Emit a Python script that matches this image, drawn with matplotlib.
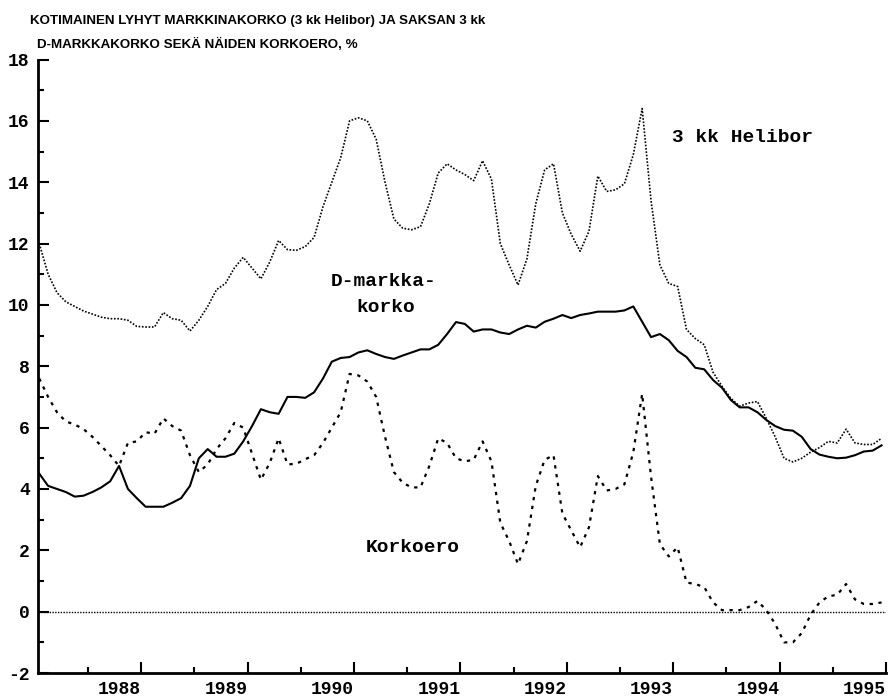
import matplotlib
matplotlib.use('Agg')
import matplotlib.pyplot as plt
from matplotlib import font_manager
import numpy as np

# Monthly values, Jan 1987 - Dec 1994 (%)
helibor = [12.0, 11.0, 10.4, 10.1, 9.95, 9.8, 9.7, 9.6, 9.55, 9.55, 9.5, 9.3,
           9.28, 9.28, 9.75, 9.55, 9.5, 9.15, 9.5, 9.95, 10.5, 10.7, 11.2, 11.55,
           11.2, 10.85, 11.4, 12.1, 11.8, 11.78, 11.9, 12.2, 13.2, 14.0, 14.8, 16.0,
           16.1, 16.0, 15.4, 14.0, 12.8, 12.5, 12.45, 12.55, 13.3, 14.3, 14.6, 14.4,
           14.25, 14.05, 14.7, 14.1, 12.0, 11.3, 10.65, 11.5, 13.3, 14.4, 14.6, 13.0,
           12.3, 11.75, 12.4, 14.2, 13.7, 13.75, 13.95, 14.9, 16.4, 13.4, 11.3, 10.7,
           10.6, 9.2, 8.9, 8.7, 7.8, 7.35, 6.95, 6.7, 6.8, 6.85, 6.3, 5.7,
           5.0, 4.88, 5.0, 5.2, 5.35, 5.55, 5.5, 5.95, 5.5, 5.45, 5.45, 5.65]

dmark = [4.5, 4.1, 4.0, 3.9, 3.75, 3.78, 3.9, 4.05, 4.25, 4.75, 4.0, 3.7,
         3.42, 3.42, 3.42, 3.55, 3.7, 4.1, 5.0, 5.3, 5.05, 5.05, 5.15, 5.55,
         6.05, 6.6, 6.5, 6.45, 7.0, 7.0, 6.97, 7.15, 7.6, 8.15, 8.27, 8.3,
         8.45, 8.52, 8.4, 8.3, 8.24, 8.35, 8.45, 8.55, 8.55, 8.7, 9.05, 9.44,
         9.38, 9.13, 9.2, 9.2, 9.1, 9.05, 9.2, 9.32, 9.26, 9.45, 9.55, 9.67,
         9.57, 9.67, 9.72, 9.78, 9.78, 9.78, 9.82, 9.95, 9.45, 8.95, 9.05, 8.85,
         8.5, 8.3, 7.95, 7.9, 7.55, 7.3, 6.9, 6.66, 6.66, 6.5, 6.25, 6.05,
         5.93, 5.9, 5.7, 5.3, 5.12, 5.05, 5.0, 5.02, 5.1, 5.22, 5.25, 5.42]

korkoero = [7.6, 7.0, 6.5, 6.2, 6.1, 5.95, 5.7, 5.4, 5.1, 4.75, 5.5, 5.55,
            5.85, 5.8, 6.3, 6.05, 5.9, 5.1, 4.55, 4.8, 5.3, 5.65, 6.15, 6.0,
            5.15, 4.3, 4.85, 5.65, 4.8, 4.82, 4.97, 5.1, 5.5, 6.0, 6.5, 7.75,
            7.7, 7.5, 7.0, 5.7, 4.55, 4.2, 4.05, 4.05, 4.75, 5.65, 5.5, 5.0,
            4.9, 4.95, 5.55, 4.9, 2.9, 2.3, 1.55, 2.3, 4.1, 4.95, 5.1, 3.2,
            2.65, 2.1, 2.75, 4.42, 3.95, 4.0, 4.15, 5.2, 7.1, 4.4, 2.2, 1.8,
            2.1, 0.95, 0.9, 0.8, 0.3, 0.05, 0.05, 0.05, 0.15, 0.35, 0.05, -0.4,
            -1.0, -1.0, -0.7, -0.1, 0.3, 0.5, 0.55, 0.9, 0.4, 0.25, 0.25, 0.3]

years = [1988, 1989, 1990, 1991, 1992, 1993, 1994, 1995]
yticks = [-2, 0, 2, 4, 6, 8, 10, 12, 14, 16, 18]

title1 = 'KOTIMAINEN LYHYT MARKKINAKORKO (3 kk Helibor) JA SAKSAN 3 kk'
title2 = 'D-MARKKAKORKO SEKÄ NÄIDEN KORKOERO, %'

# mid-month positions in decimal years
t = 1987 + (np.arange(len(helibor)) + 0.5) / 12

# pick a narrow font for the title if one is there
fonts = font_manager.fontManager.ttflist
names = {f.name for f in fonts}
title_kw = dict(family='Liberation Sans', weight='bold')
if 'Liberation Sans Narrow' in names:
    title_kw = dict(family='Liberation Sans Narrow', weight='bold')

mono = dict(family='Liberation Mono', weight='bold')

fig = plt.figure(figsize=(8.95, 6.98), dpi=100)
ax = fig.add_axes([38 / 895, 1 - 673 / 698, (886 - 38) / 895, (673 - 59.5) / 698])

ax.plot(t, helibor, color='black', lw=1.2, ls=(0, (1, 1)))
ax.plot(t, dmark, color='black', lw=1.5, ls='-')
ax.plot(t, korkoero, color='black', lw=1.6, ls=(0, (1.5, 2.5)))
ax.axhline(0, color='black', lw=1.0, ls=(0, (1, 1)))

ax.set_xlim(1987.03, 1995.0)
ax.set_ylim(-2, 18)

for s in ['top', 'right']:
    ax.spines[s].set_visible(False)
for s in ['left', 'bottom']:
    ax.spines[s].set_linewidth(2)

ax.set_xticks(years)
ax.set_xticklabels([str(y) for y in years], fontsize=13, **mono)
ax.set_xticks([y - 0.5 for y in years], minor=True)
ax.set_yticks(yticks)
ax.set_yticklabels([str(v) for v in yticks], fontsize=13, **mono)
ax.set_yticks([v + 1 for v in yticks[:-1]], minor=True)
ax.tick_params(which='major', direction='in', length=8, width=1.5)
ax.tick_params(which='minor', direction='in', length=4, width=1.5)
ax.tick_params(axis='x', which='major', pad=6)
ax.tick_params(axis='y', which='major', pad=6)
for lab in ax.get_xticklabels():
    lab.set_ha('right')

# series labels
ax.text(1992.99, 15.45, '3 kk Helibor', fontsize=14, va='center', ha='left', **mono)
ax.text(1989.78, 10.75, 'D-markka-', fontsize=14, va='center', ha='left', **mono)
ax.text(1990.02, 9.93, 'korko', fontsize=14, va='center', ha='left', **mono)
ax.text(1990.11, 2.09, 'Korkoero', fontsize=14, va='center', ha='left', **mono)

# title, sized to about the width it has in the original
t1 = fig.text(30 / 895, 1 - 21 / 698, title1, fontsize=12, va='center', ha='left', **title_kw)
t2 = fig.text(37 / 895, 1 - 44 / 698, title2, fontsize=12, va='center', ha='left', **title_kw)
fig.canvas.draw()
w = t1.get_window_extent().width
size = 12 * 455 / w
t1.set_fontsize(size)
t2.set_fontsize(size)

fig.savefig('out.png', dpi=100)
